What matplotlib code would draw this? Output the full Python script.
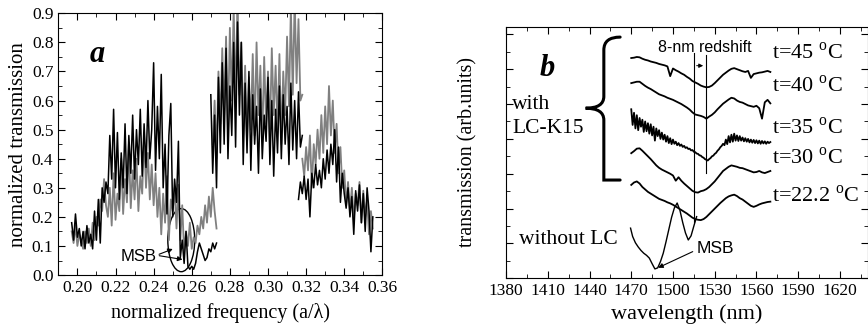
import numpy as np
import matplotlib.pyplot as plt
from matplotlib.patches import Ellipse
from matplotlib.path import Path
from matplotlib.patches import PathPatch

plt.rcParams['font.family'] = ['Liberation Serif', 'DejaVu Serif']
plt.rcParams['mathtext.fontset'] = 'custom'
plt.rcParams['mathtext.rm'] = 'Liberation Serif'

# ---- panel a : normalized transmission, three measured ranges each
black1_range = (0.197, 0.273)
black1 = [0.18, 0.12, 0.21, 0.13, 0.16, 0.10, 0.15, 0.09, 0.17, 0.11, 0.14, 0.09, 0.22, 0.12, 0.26, 0.11,
          0.30, 0.25, 0.32, 0.28, 0.48, 0.33, 0.57, 0.30, 0.49, 0.26, 0.42, 0.30, 0.52, 0.28, 0.48, 0.35,
          0.55, 0.33, 0.50, 0.38, 0.57, 0.34, 0.52, 0.37, 0.60, 0.40, 0.50, 0.73, 0.36, 0.58, 0.40, 0.69,
          0.30, 0.45, 0.21, 0.48, 0.59, 0.20, 0.33, 0.25, 0.46, 0.06, 0.12, 0.04, 0.15, 0.03, 0.02, 0.03,
          0.02, 0.04, 0.08, 0.11, 0.09, 0.07, 0.05, 0.06, 0.09, 0.08, 0.11, 0.09, 0.11]
gray1_range = (0.197, 0.273)
gray1 = [0.15, 0.11, 0.17, 0.10, 0.14, 0.12, 0.09, 0.15, 0.11, 0.16, 0.10, 0.18, 0.12, 0.20, 0.17, 0.26,
         0.22, 0.33, 0.24, 0.20, 0.30, 0.17, 0.35, 0.19, 0.28, 0.22, 0.40, 0.21, 0.33, 0.25, 0.45, 0.23,
         0.36, 0.26, 0.40, 0.22, 0.34, 0.28, 0.48, 0.30, 0.42, 0.26, 0.38, 0.24, 0.35, 0.20, 0.30, 0.14,
         0.28, 0.18, 0.34, 0.12, 0.26, 0.22, 0.30, 0.16, 0.31, 0.12, 0.24, 0.08, 0.15, 0.10, 0.18, 0.09,
         0.13, 0.11, 0.17, 0.14, 0.20, 0.16, 0.24, 0.18, 0.27, 0.20, 0.30, 0.22, 0.16]

black2_range = (0.270, 0.318)
black2 = [0.62, 0.35, 0.55, 0.30, 0.68, 0.42, 0.73, 0.45, 0.78, 0.40, 0.65, 0.48, 0.80, 0.44, 0.87, 0.55,
          0.80, 0.38, 0.66, 0.42, 0.70, 0.36, 0.62, 0.45, 0.58, 0.35, 0.64, 0.40, 0.55, 0.46, 0.68, 0.38,
          0.60, 0.34, 0.57, 0.42, 0.65, 0.40, 0.62, 0.45, 0.58, 0.38, 0.66, 0.43, 0.60, 0.40, 0.63, 0.44, 0.48]
gray2_range = (0.271, 0.318)
gray2 = [0.45, 0.60, 0.40, 0.70, 0.52, 0.78, 0.55, 0.82, 0.50, 0.85, 0.60, 0.92, 0.58, 0.95, 0.62, 0.80,
         0.48, 0.72, 0.45, 0.68, 0.50, 0.76, 0.48, 0.80, 0.55, 0.72, 0.46, 0.75, 0.52, 0.70, 0.48, 0.78,
         0.55, 0.72, 0.50, 0.76, 0.45, 0.70, 0.55, 0.82, 0.58, 0.92, 0.62, 0.95, 0.66, 0.88, 0.60, 0.62]

black3_range = (0.316, 0.355)
black3 = [0.26, 0.32, 0.28, 0.34, 0.26, 0.33, 0.20, 0.35, 0.30, 0.38, 0.31, 0.36, 0.30, 0.40, 0.33, 0.43,
          0.35, 0.45, 0.38, 0.50, 0.32, 0.44, 0.25, 0.35, 0.28, 0.23, 0.30, 0.20, 0.27, 0.14, 0.29, 0.22,
          0.31, 0.18, 0.28, 0.15, 0.30, 0.22, 0.08, 0.20]
gray3_range = (0.318, 0.355)
gray3 = [0.40, 0.34, 0.44, 0.36, 0.48, 0.30, 0.45, 0.38, 0.50, 0.40, 0.55, 0.42, 0.58, 0.45, 0.65, 0.48,
         0.60, 0.42, 0.52, 0.35, 0.44, 0.30, 0.36, 0.24, 0.32, 0.22, 0.30, 0.19, 0.28, 0.24, 0.32, 0.18,
         0.29, 0.20, 0.26, 0.14, 0.22, 0.16]

# ---- panel b : spectra at several temperatures, offset (arb. units)
wl_range = (1470, 1570)
temps = ['t=45 $^{\\mathrm{o}}$C', 't=40 $^{\\mathrm{o}}$C', 't=35 $^{\\mathrm{o}}$C',
         't=30 $^{\\mathrm{o}}$C', 't=22.2 $^{\\mathrm{o}}$C']
t45 = [6.32, 6.33, 6.35, 6.34, 6.30, 6.27, 6.25, 6.22, 6.20, 6.18, 6.15, 6.13, 6.11, 6.08, 5.80, 6.02,
       5.97, 5.93, 5.88, 5.84, 5.78, 5.73, 5.66, 5.62, 5.58, 5.53, 5.50, 5.48, 5.49, 5.53, 5.60, 5.68,
       5.76, 5.84, 5.90, 5.96, 6.01, 6.03, 6.00, 5.97, 5.94, 5.92, 5.95, 5.75, 5.86, 5.88, 5.90, 5.91,
       5.93, 5.95, 5.92]
t40 = [5.60, 5.62, 5.64, 5.64, 5.58, 5.52, 5.47, 5.43, 5.38, 5.33, 5.28, 5.25, 5.22, 5.18, 5.15, 5.12,
       5.08, 5.04, 5.00, 4.95, 4.90, 4.84, 4.76, 4.70, 4.68, 4.66, 4.63, 4.58, 4.64, 4.69, 4.76, 4.85,
       4.93, 5.01, 5.07, 5.13, 5.18, 5.16, 5.10, 5.06, 5.04, 5.00, 4.96, 4.94, 4.92, 4.95, 4.88, 4.58,
       5.05, 5.12, 5.02]
t35 = [4.85, 4.40, 4.75, 4.30, 4.68, 4.25, 4.60, 4.35, 4.55, 4.20, 4.50, 4.22, 4.45, 4.15, 4.42, 4.10,
       4.35, 3.95, 4.30, 4.08, 4.25, 4.00, 4.18, 3.98, 4.12, 3.92, 4.08, 3.88, 4.02, 3.85, 3.98, 3.86,
       3.92, 3.82, 3.88, 3.80, 3.84, 3.77, 3.80, 3.74, 3.76, 3.71, 3.72, 3.67, 3.68, 3.63, 3.62, 3.58,
       3.57, 3.53, 3.52, 3.48, 3.46, 3.42, 3.40, 3.38, 3.42, 3.45, 3.50, 3.52, 3.57, 3.60, 3.66, 3.70,
       3.76, 3.80, 3.86, 3.82, 3.98, 3.85, 4.08, 3.90, 4.12, 3.92, 4.15, 3.95, 4.10, 3.94, 4.08, 3.95,
       4.04, 3.93, 4.02, 3.92, 4.00, 3.90, 3.98, 3.89, 3.97, 3.88, 3.96, 3.87, 3.95, 3.86, 3.94, 3.87,
       3.93, 3.86, 3.92, 3.88, 3.91]
t30 = [3.59, 3.65, 3.72, 3.73, 3.66, 3.58, 3.50, 3.42, 3.33, 3.24, 3.17, 3.12, 3.08, 3.04, 3.00, 2.95,
       2.80, 2.90, 2.80, 2.72, 2.65, 2.58, 2.51, 2.47, 2.46, 2.50, 2.52, 2.56, 2.62, 2.70, 2.78, 2.88,
       2.98, 3.08, 3.14, 3.20, 3.24, 3.22, 3.20, 3.17, 3.16, 3.13, 3.10, 3.07, 3.04, 3.05, 3.08, 3.04,
       3.02, 3.05, 3.08]
t22 = [2.68, 2.75, 2.78, 2.72, 2.62, 2.55, 2.48, 2.43, 2.38, 2.33, 2.28, 2.25, 2.22, 2.18, 2.15, 2.11,
       2.06, 2.01, 1.96, 1.91, 1.86, 1.80, 1.74, 1.70, 1.68, 1.67, 1.70, 1.76, 1.84, 1.92, 2.00, 2.08,
       2.16, 2.23, 2.30, 2.35, 2.38, 2.40, 2.36, 2.30, 2.26, 2.20, 2.14, 2.08, 2.05, 2.08, 2.12, 2.15,
       2.17, 2.19, 2.20]
temp_label_y = [6.46, 5.50, 4.31, 3.44, 2.34]

noLC_wl = [1469.5, 1471, 1473, 1475, 1477, 1479, 1481, 1483, 1485, 1487, 1489, 1491, 1493, 1495, 1497,
           1499, 1501, 1503, 1505, 1507, 1509, 1511, 1513, 1515, 1517]
noLC = [1.44, 1.20, 1.02, 0.90, 0.80, 0.72, 0.66, 0.58, 0.42, 0.27, 0.30, 0.48, 0.72, 1.05, 1.40,
        1.75, 2.02, 2.16, 1.95, 1.60, 1.30, 1.10, 1.22, 1.50, 1.77]

fig = plt.figure(figsize=(8.68, 3.29), dpi=100)
axa = fig.add_axes([0.0672, 0.164, 0.3733, 0.7955])
axb = fig.add_axes([0.583, 0.154, 0.4167, 0.765])

gray = '#808080'
for rng, vals in [(gray1_range, gray1), (gray2_range, gray2), (gray3_range, gray3)]:
    axa.plot(np.linspace(rng[0], rng[1], len(vals)), vals, color=gray, lw=1.3)
for rng, vals in [(black1_range, black1), (black2_range, black2), (black3_range, black3)]:
    axa.plot(np.linspace(rng[0], rng[1], len(vals)), vals, color='black', lw=1.1)

axa.add_patch(Ellipse((0.2545, 0.12), 0.0141, 0.217, fill=False, color='black', lw=1.0))
for tip in [(0.2514, 0.093), (0.2566, 0.052)]:
    axa.annotate('', xy=tip, xytext=(0.2415, 0.068),
                 arrowprops=dict(arrowstyle='-|>', color='black', lw=0.8, mutation_scale=7))
axa.text(0.2415, 0.064, 'MSB', family='Liberation Sans', fontsize=12, ha='right', va='center')
axa.text(0.2103, 0.757, 'a', fontsize=22, fontweight='bold', style='italic', ha='center', va='center')

axa.set_xlim(0.19, 0.36)
axa.set_ylim(0, 0.9)
axa.set_xticks(np.arange(0.20, 0.361, 0.02))
axa.set_xticks(np.arange(0.19, 0.361, 0.01), minor=True)
axa.set_yticks(np.arange(0, 0.91, 0.1))
axa.set_yticks(np.arange(0, 0.91, 0.05), minor=True)
axa.xaxis.set_major_formatter(plt.FormatStrFormatter('%.2f'))
axa.yaxis.set_major_formatter(plt.FormatStrFormatter('%.1f'))
axa.set_xlabel('normalized frequency (a/λ)', fontsize=14.5, labelpad=5)
axa.set_ylabel('normalized transmission', fontsize=15, labelpad=3)

# panel b
for vals in [t45, t40, t35, t30, t22]:
    axb.plot(np.linspace(wl_range[0], wl_range[1], len(vals)), vals, color='black', lw=1.3)
axb.plot(noLC_wl, noLC, color='black', lw=1.0)
for lab, y in zip(temps, temp_label_y):
    axb.text(1571, y, lab, fontsize=16, ha='left', va='center')

axb.plot([1515, 1515], [1.63, 6.46], color='black', lw=0.8)
axb.plot([1523.7, 1523.7], [3.01, 6.40], color='black', lw=0.8)
axb.annotate('', xy=(1523.7, 6.10), xytext=(1515, 6.10),
             arrowprops=dict(arrowstyle='-|>', color='black', lw=0.7, mutation_scale=6))
axb.text(1523, 6.62, '8-nm redshift', family='Liberation Sans', fontsize=11.5, ha='center', va='center')

axb.annotate('', xy=(1487.5, 0.27), xytext=(1516, 0.80),
             arrowprops=dict(arrowstyle='-|>', color='black', lw=0.8, mutation_scale=7))
axb.text(1517, 0.86, 'MSB', family='Liberation Sans', fontsize=12.5, ha='left', va='center')

axb.text(1384.5, 5.0, 'with', fontsize=15.5, ha='left', va='center')
axb.text(1384.5, 4.31, 'LC-K15', fontsize=15.5, ha='left', va='center')
axb.text(1389, 1.10, 'without LC', fontsize=15.5, ha='left', va='center')
axb.text(1409.8, 6.03, 'b', fontsize=22, fontweight='bold', style='italic', ha='center', va='center')

# curly brace
bx = [1462, 1450.3, 1450.3, 1450.3, 1450.3, 1437.2, 1450.3, 1450.3, 1450.3, 1450.3, 1450.3, 1462]
by = [6.92, 6.92, 6.55, 5.22, 4.88, 4.88, 4.88, 4.54, 3.16, 2.82, 2.82, 2.82]
codes = [Path.MOVETO, Path.CURVE3, Path.CURVE3, Path.LINETO, Path.CURVE3, Path.CURVE3,
         Path.CURVE3, Path.CURVE3, Path.LINETO, Path.CURVE3, Path.CURVE3, Path.LINETO]
axb.add_patch(PathPatch(Path(list(zip(bx, by)), codes), fill=False, lw=2.2, color='black',
                        capstyle='round'))

axb.set_xlim(1380, 1640)
axb.set_ylim(0, 7.22)
axb.set_xticks(np.arange(1380, 1621, 30))
axb.set_xticks(np.arange(1380, 1641, 15), minor=True)
axb.set_yticks(np.arange(0, 7.3, 1))
axb.set_yticks(np.arange(0, 7.3, 0.5), minor=True)
axb.set_yticklabels([])
axb.set_xlabel('wavelength (nm)', fontsize=16, labelpad=4)
axb.set_ylabel('transmission (arb.units)', fontsize=14.5, labelpad=17)

for ax in [axa, axb]:
    ax.tick_params(which='both', direction='in', top=True, right=True, labelsize=12.5)
    ax.tick_params(which='major', length=5)
    ax.tick_params(which='minor', length=3)

fig.savefig('out.png', dpi=100)
